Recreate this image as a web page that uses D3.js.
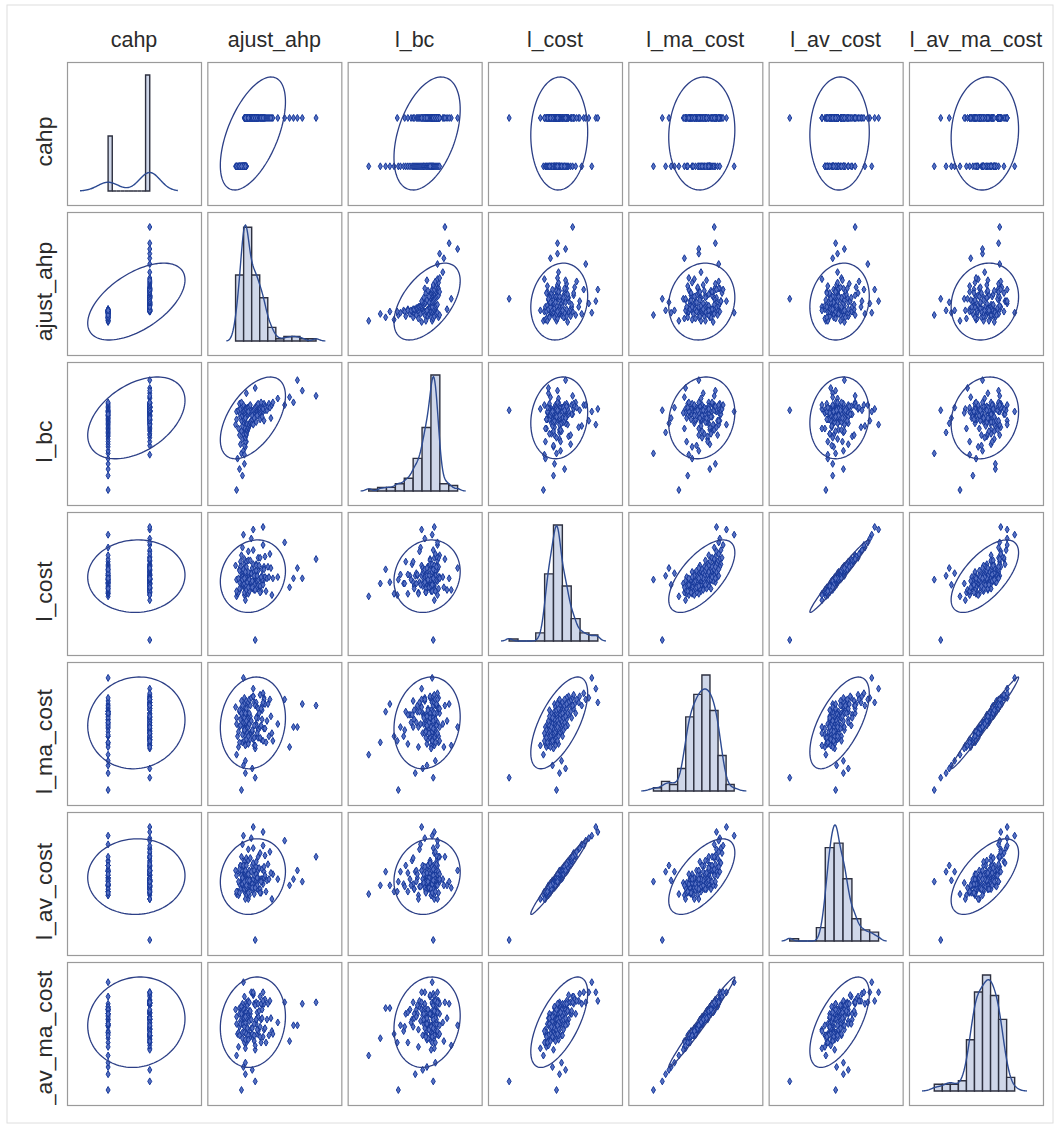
<!DOCTYPE html>
<html>
<head>
<meta charset="utf-8">
<script src="https://cdn.jsdelivr.net/npm/d3@7"></script>
<style>
  body { margin: 0; background: #ffffff; }
  text { font-family: "Liberation Sans", Arial, Helvetica, sans-serif; }
</style>
</head>
<body>
<svg id="chart" width="1057" height="1130"></svg>
<script>
// Variable names, in matrix order
const names = ["cahp", "ajust_ahp", "l_bc", "l_cost", "l_ma_cost", "l_av_cost", "l_av_ma_cost"];

// Observations (one entry per unit, same order in every array)
const cahp = [
  0,0,0,0,0,0,0,0,0,0,0,0,0,0,0,0,0,0,0,0,0,0,0,0,0,0,0,0,0,0,0,0,0,0,0,0,0,0,0,0,0,0,0,0,0,
  1,1,1,1,1,1,1,1,1,1,1,1,1,1,1,1,1,1,1,1,1,1,1,1,1,1,1,1,1,1,1,1,1,1,
  1,1,1,1,1,1,1,1,1,1,1,1,1,1,1,1,1,1,1,1,1,1,1,1,1,1,1,1,1,
  1,1,1,1,1,1,1,1,1,1,1,1,1,1,1,1,1,1,
  1,1,1,1,1,1,1,
  1,1,1,1,1,1,1
];
const ajust_ahp = [
  0.30,0.36,0.33,0.38,0.31,0.35,0.37,0.39,0.34,0.40,0.36,0.38,0.33,0.37,0.39,0.35,0.39,0.32,0.38,0.36,0.29,0.40,0.38,0.37,0.35,0.30,0.37,0.39,0.34,0.39,0.36,0.38,0.33,0.40,0.30,0.37,0.32,0.38,0.34,0.39,0.36,0.37,0.33,0.35,0.39,
  0.38,0.38,0.39,0.39,0.40,0.40,0.41,0.41,0.42,0.42,0.43,0.43,0.44,0.44,0.45,0.38,0.39,0.40,0.41,0.42,0.43,0.44,0.45,0.38,0.39,0.40,0.41,0.42,0.43,0.44,0.40,0.45,0.39,0.42,
  0.46,0.46,0.47,0.47,0.48,0.48,0.49,0.49,0.50,0.50,0.51,0.51,0.52,0.52,0.46,0.47,0.48,0.49,0.50,0.51,0.52,0.46,0.48,0.50,0.52,0.47,0.49,0.51,0.53,
  0.54,0.54,0.55,0.55,0.56,0.56,0.57,0.57,0.58,0.58,0.59,0.59,0.54,0.56,0.58,0.55,0.57,0.60,
  0.61,0.62,0.63,0.64,0.66,0.67,0.65,
  0.72,0.79,0.84,0.88,0.92,0.97,1.11
];
const l_bc = [
  2.5,3.6,4.1,4.5,4.9,5.3,5.5,5.8,6.0,6.2,6.4,6.6,6.7,6.8,6.9,7.0,7.1,7.2,7.3,7.4,7.5,7.6,7.7,7.7,7.8,7.9,8.0,8.0,8.1,8.2,8.2,8.3,8.4,8.4,8.5,8.5,8.6,8.6,8.7,8.8,8.9,9.0,9.1,9.2,8.3,
  5.2,5.9,6.2,6.5,6.7,6.8,7.0,7.1,7.2,7.3,7.4,7.5,7.6,7.7,7.8,7.9,8.0,8.1,8.2,8.3,8.4,8.5,8.6,8.6,8.7,8.7,8.8,8.8,8.9,9.0,9.9,7.8,8.0,8.5,
  7.6,7.9,8.1,8.3,8.4,8.5,8.6,8.4,8.5,8.6,8.7,8.5,8.6,8.8,8.5,8.6,8.7,8.8,8.9,9.0,9.1,8.2,8.0,7.7,8.3,7.5,10.3,8.2,8.7,
  8.4,8.7,8.5,8.9,8.6,8.8,9.0,8.5,8.7,9.1,8.6,8.9,7.9,8.1,7.8,9.2,8.7,8.8,
  8.6,8.9,9.1,8.8,9.0,9.2,8.0,
  9.5,9.0,9.6,9.2,10.9,10.1,9.7
];
const l_cost = [
  5.7,6.7,7.8,6.8,5.9,7.0,7.4,6.7,8.4,5.9,7.3,8.2,6.8,6.5,7.3,7.5,7.3,6.0,6.8,9.5,8.1,6.5,6.9,7.6,7.2,6.1,6.6,6.9,8.0,6.4,7.2,8.6,7.7,6.2,7.0,10.5,7.1,7.9,6.3,7.5,7.0,7.8,6.3,8.9,7.1,
  5.8,6.7,7.4,7.0,8.4,6.3,6.7,7.4,5.9,9.2,6.6,7.3,7.5,6.7,10.2,6.0,7.2,8.0,6.5,8.5,
  6.1,6.8,7.5,7.1,5.4,6.5,6.8,7.6,7.0,8.5,6.2,6.8,7.6,6.4,7.9,6.3,6.9,8.2,6.9,7.6,
  2.3,6.7,8.2,6.9,6.3,6.4,6.6,7.7,6.9,9.3,6.2,7.3,8.1,6.9,8.7,6.4,7.3,7.7,7.0,10.9,
  6.2,7.3,8.1,6.5,8.7,6.1,7.0,7.8,7.3,9.7,6.6,7.0,8.0,7.2,8.8,6.0,7.0,7.8,7.2,11.1,
  6.1,7.1,8.0,7.2,9.0,5.8,7.1,7.9,7.2,9.9,6.4,7.1,7.9,7.1,8.6
];
const l_ma_cost = [
  5.2,6.0,8.0,8.5,6.4,2.9,7.0,6.4,8.0,5.9,7.8,7.8,7.0,7.5,4.0,8.2,8.0,5.7,8.0,8.4,8.3,7.9,7.8,7.2,8.7,7.2,4.5,7.4,7.5,7.3,7.7,8.9,8.1,6.9,7.6,10.2,6.7,8.0,7.1,4.8,6.5,7.3,6.0,7.9,7.9,
  6.1,6.8,7.8,7.3,8.7,8.1,7.3,8.4,7.0,8.6,7.2,8.8,6.6,7.7,8.9,6.8,5.9,8.2,6.6,7.6,
  6.5,6.2,7.4,7.6,5.8,6.2,7.5,6.4,7.9,8.4,7.4,6.6,7.9,5.9,4.3,6.7,6.2,9.0,5.8,8.6,
  3.7,5.6,8.6,7.2,7.7,6.4,7.6,6.8,6.7,9.0,6.3,8.4,7.1,8.3,8.2,6.8,7.1,7.6,6.3,9.5,
  5.8,6.6,7.9,7.0,9.1,6.2,7.1,8.4,7.5,9.2,6.1,6.9,8.9,6.9,8.5,6.3,8.1,8.8,8.2,8.6,
  6.0,7.4,8.5,6.4,8.8,6.6,6.1,7.7,7.2,8.8,5.7,7.0,7.0,8.5,8.4
];
const l_av_cost = [
  6.0,6.7,7.8,6.7,6.2,7.0,7.8,6.8,8.3,6.2,7.2,8.7,6.8,6.4,7.8,7.9,7.3,5.9,6.6,10.0,7.9,6.8,7.3,7.3,7.5,6.2,7.1,6.7,8.3,6.7,7.3,8.6,8.0,5.9,7.5,10.7,7.0,8.3,6.4,7.8,6.8,8.3,6.1,9.0,7.6,
  6.2,6.6,7.7,6.7,8.9,6.4,7.0,7.6,5.6,9.6,6.6,7.9,7.2,6.9,10.5,6.4,6.9,8.3,6.4,8.7,
  5.9,7.1,7.8,7.0,5.6,6.5,7.1,7.6,7.1,8.9,6.7,6.5,7.9,6.1,8.3,6.3,7.2,8.5,6.6,7.9,
  2.3,6.9,8.2,7.0,6.4,6.9,6.4,7.9,6.8,9.7,6.0,7.5,8.6,6.7,9.0,6.5,7.5,7.6,7.3,11.4,
  6.5,7.3,8.1,6.4,9.3,6.1,7.2,8.0,7.2,9.9,6.8,7.3,7.8,7.5,9.1,6.1,7.0,8.2,7.0,11.0,
  6.2,7.1,8.4,7.2,9.4,5.6,7.6,7.7,7.2,10.3,6.7,7.2,7.9,7.0,9.0
];
const l_av_ma_cost = [
  5.5,6.7,8.8,8.8,7.0,3.1,7.6,7.2,8.4,6.4,8.7,8.0,7.5,8.1,4.2,8.7,8.4,6.1,8.9,9.1,8.7,8.3,8.6,7.7,8.9,7.7,4.7,8.0,7.9,7.6,8.6,9.6,8.4,7.6,8.2,10.6,7.1,8.7,7.7,5.0,7.1,7.7,6.9,8.4,8.4,
  6.4,7.5,8.5,7.8,9.2,8.4,8.2,9.0,7.3,9.3,7.9,9.2,6.9,8.4,9.9,7.1,6.6,8.5,7.4,8.4,
  6.9,6.8,8.0,8.1,6.0,7.0,8.2,6.9,8.6,8.6,8.1,7.4,8.2,6.6,4.5,6.9,6.7,9.7,6.5,9.1,
  3.7,5.9,9.2,8.0,8.1,7.0,8.2,7.3,7.0,9.8,6.9,9.0,7.7,8.5,9.1,7.4,7.7,8.0,7.2,9.9,
  6.2,7.3,8.6,7.5,9.6,6.4,8.0,9.0,8.1,9.9,6.8,7.3,9.3,7.4,9.4,6.8,8.7,9.1,9.1,9.3,
  6.4,8.0,9.1,6.9,9.3,7.2,7.0,8.1,7.8,9.2,6.5,7.6,7.6,9.1,9.2
];

const columns = [cahp, ajust_ahp, l_bc, l_cost, l_ma_cost, l_av_cost, l_av_ma_cost];
const n = cahp.length;

// Panel geometry
const cellW = 134, cellH = 143;
const left0 = 67, top0 = 62, stepX = 140.33, stepY = 150;
const padL = 13, padR = 16, padY = 15;
const kdeReach = 2.7;   // density curve drawn this many bandwidths beyond the data

// Summary statistics + kernel bandwidth per variable
const info = columns.map(v => {
  const s = v.slice().sort(d3.ascending);
  const mean = d3.mean(v), sd = d3.deviation(v);
  const iqr = d3.quantileSorted(s, 0.75) - d3.quantileSorted(s, 0.25);
  const spread = iqr > 0 ? iqr / 1.34 : sd;
  const h = 0.9 * spread * Math.pow(n, -0.2);
  return { mean, sd, min: s[0], max: s[s.length - 1], h };
});

function cov(a, b) {
  const ma = d3.mean(a), mb = d3.mean(b);
  return d3.sum(a, (d, k) => (d - ma) * (b[k] - mb)) / (n - 1);
}

// 95% prediction ellipse radius (F quantile with 2 numerator df has a closed form)
const m = n - 2;
const fq = (m / 2) * (Math.pow(0.05, -2 / m) - 1);
const rad = Math.sqrt(2 * (n + 1) * (n - 1) / (n * m) * fq);

// Column (x) scales include histogram/density extent; row (y) scales include data + ellipse
const xScales = info.map((s, j) => {
  const lo = Math.min(s.min - kdeReach * s.h, s.mean - rad * s.sd);
  const hi = Math.max(s.max + kdeReach * s.h, s.mean + rad * s.sd);
  const left = left0 + j * stepX;
  return d3.scaleLinear().domain([lo, hi]).range([left + padL, left + cellW - padR]);
});
const yScales = info.map((s, i) => {
  const lo = Math.min(s.min, s.mean - rad * s.sd);
  const hi = Math.max(s.max, s.mean + rad * s.sd);
  const top = top0 + i * stepY;
  return d3.scaleLinear().domain([lo, hi]).range([top + cellH - padY, top + padY]);
});

const svg = d3.select("#chart");
const defs = svg.append("defs");

// outer frame
svg.append("rect")
  .attr("x", 7).attr("y", 5).attr("width", 1046).attr("height", 1118)
  .attr("fill", "#ffffff").attr("stroke", "#dedede").attr("stroke-width", 1);

const markerColor = "#17399a";
const markerFill = "#5670c2";
const ellipseColor = "#2c3f86";
const symbolPath = d3.symbol().type(d3.symbolDiamond).size(14)();

for (let i = 0; i < names.length; i++) {
  for (let j = 0; j < names.length; j++) {
    const left = left0 + j * stepX, top = top0 + i * stepY;
    const cell = svg.append("g");
    cell.append("rect")
      .attr("x", left + 0.5).attr("y", top + 0.5)
      .attr("width", cellW).attr("height", cellH)
      .attr("fill", "#ffffff").attr("stroke", "#9a9a9a").attr("stroke-width", 1.2);

    const xs = xScales[j];
    if (i === j) {
      // histogram with kernel density
      const v = columns[i], s = info[i];
      const k = 10, w = (s.max - s.min) / k;
      const thresholds = d3.range(1, k).map(t => s.min + t * w);
      const bins = d3.bin().domain([s.min, s.max]).thresholds(thresholds)(v);
      const dens = bins.map(b => b.length / (n * w));
      const x0 = s.min - kdeReach * s.h, x1 = s.max + kdeReach * s.h;
      const kx = d3.range(0, 161).map(t => x0 + t * (x1 - x0) / 160);
      const ky = kx.map(x => d3.sum(v, xi => Math.exp(-0.5 * ((x - xi) / s.h) ** 2)) / (n * s.h * Math.sqrt(2 * Math.PI)));
      const ymax = Math.max(d3.max(dens), d3.max(ky));
      const hy = d3.scaleLinear().domain([0, ymax]).range([top + cellH - 14, top + 13]);

      // bars as paths so that empty bins still show along the baseline
      cell.selectAll("path.bar").data(bins).join("path")
        .attr("class", "bar")
        .attr("d", (b, q) => {
          const xa = xs(b.x0), xb = xs(b.x1), y = hy(dens[q]), base = hy(0);
          return `M${xa},${base}V${y}H${xb}V${base}Z`;
        })
        .attr("fill", "#cfd7e9")
        .attr("stroke", "#2e3140")
        .attr("stroke-width", 1.4);

      cell.append("path")
        .attr("d", d3.line().x(d => xs(d[0])).y(d => hy(d[1]))(kx.map((x, q) => [x, ky[q]])))
        .attr("fill", "none").attr("stroke", "#2d4b92").attr("stroke-width", 1.4);
    } else {
      const ys = yScales[i];
      const vx = columns[j], vy = columns[i];
      const sx = info[j], sy = info[i];

      cell.selectAll("path.pt").data(d3.range(n)).join("path")
        .attr("class", "pt")
        .attr("d", symbolPath)
        .attr("transform", q => `translate(${xs(vx[q])},${ys(vy[q])})`)
        .attr("fill", markerFill)
        .attr("stroke", markerColor)
        .attr("stroke-width", 1);

      // prediction ellipse from the covariance (Cholesky factor)
      const sxx = cov(vx, vx), syy = cov(vy, vy), sxy = cov(vx, vy);
      const a = Math.sqrt(sxx), b = sxy / a, c = Math.sqrt(Math.max(syy - b * b, 0));
      const ring = d3.range(0, 121).map(t => {
        const th = t / 120 * 2 * Math.PI;
        return [sx.mean + rad * a * Math.cos(th), sy.mean + rad * (b * Math.cos(th) + c * Math.sin(th))];
      });
      cell.append("path")
        .attr("d", d3.line().x(d => xs(d[0])).y(d => ys(d[1])).curve(d3.curveLinearClosed)(ring))
        .attr("fill", "none").attr("stroke", ellipseColor).attr("stroke-width", 1.3);
    }
  }
}

// column headers
svg.selectAll("text.colLab").data(names).join("text")
  .attr("class", "colLab")
  .attr("x", (d, j) => left0 + j * stepX + cellW / 2)
  .attr("y", 47)
  .attr("text-anchor", "middle")
  .attr("font-size", 21.5)
  .attr("fill", "#2b2b2b")
  .text(d => d);

// row headers, clipped to their row band
names.forEach((d, i) => {
  const top = top0 + i * stepY;
  defs.append("clipPath").attr("id", "rowclip" + i)
    .append("rect").attr("x", 0).attr("y", top).attr("width", 66).attr("height", cellH);
  svg.append("g").attr("clip-path", `url(#rowclip${i})`)
    .append("text")
    .attr("transform", `translate(52,${top + cellH / 2 + 8}) rotate(-90) scale(1.07,1)`)
    .attr("text-anchor", "middle")
    .attr("font-size", 21.5)
    .attr("fill", "#2b2b2b")
    .text(d);
});
</script>
</body>
</html>
